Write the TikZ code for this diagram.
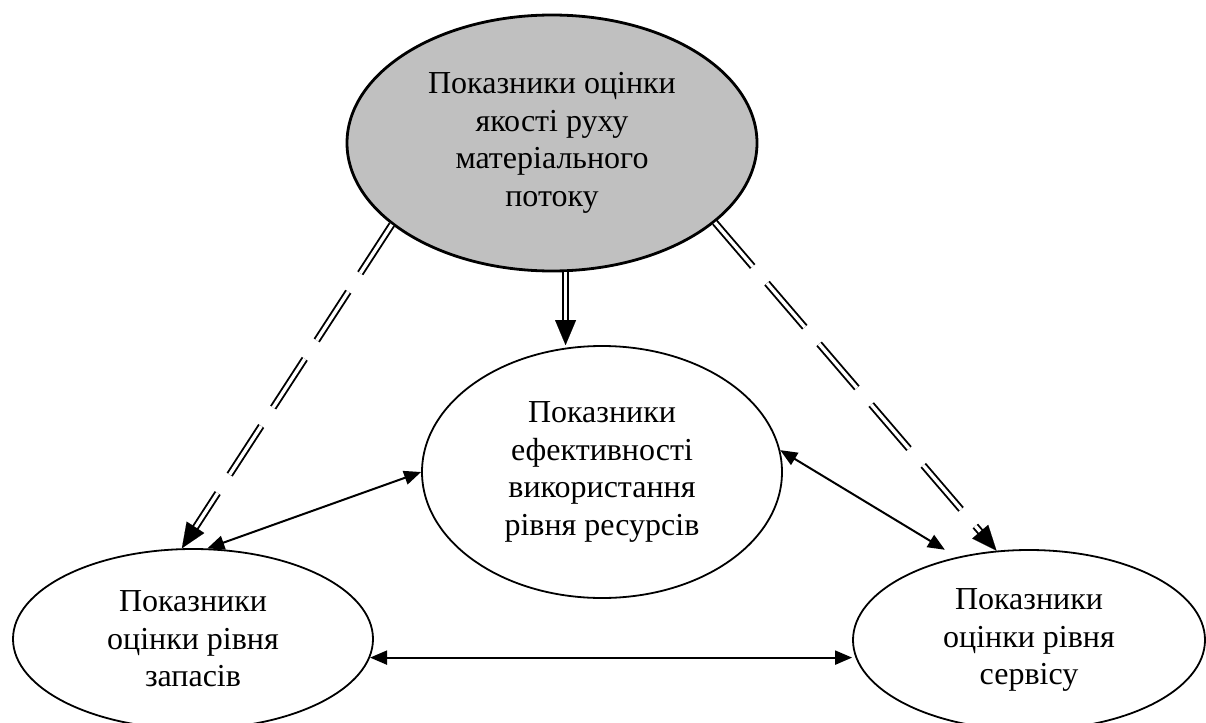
\documentclass[tikz,border=0pt]{standalone}
\usepackage{fontspec}
\setmainfont{Liberation Serif}
\usetikzlibrary{shapes.geometric,arrows.meta}
\definecolor{silverfill}{HTML}{C0C0C0}
\begin{document}
\begin{tikzpicture}[x=1pt,y=-1pt,
  oval/.style={ellipse, draw, line width=1.8pt, inner sep=0pt, align=center,
    font=\fontsize{32}{37.5}\selectfont},
  dline/.style={double, line width=1.9pt, double distance=3.4pt, shorten >=22pt},
  dashline/.style={dline, dash pattern=on 58pt off 22pt},
  tipline/.style={white, line width=0.1pt, shorten <=40pt,
    -{Triangle[length=25pt,width=21pt,color=black]}},
  biarrow/.style={line width=2pt,
    {Triangle[length=17pt,width=14pt]}-{Triangle[length=17pt,width=14pt]}}]
\useasboundingbox (0,0) rectangle (1206,722);

\node[oval, fill=silverfill, line width=2.8pt, minimum width=410pt, minimum height=256pt] (T) at (552,143)
  {Показники оцінки\\якості руху\\матеріального\\потоку};
\node[oval, minimum width=360pt, minimum height=252pt] (M) at (602,472)
  {Показники\\ефективності\\використання\\рівня ресурсів};
\node[oval, minimum width=360pt, minimum height=180pt] (L) at (193,639)
  {Показники\\оцінки рівня\\запасів};
\node[oval, minimum width=352pt, minimum height=180pt] (R) at (1029,640)
  {Показники\\оцінки рівня\\сервісу};

\draw[dashline] (T.207) -- (L.97);
\draw[tipline] (T.207) -- (L.97);
\draw[dashline] (T.334) -- (R.110);
\draw[tipline] (T.334) -- (R.110);
\draw[dline] (T.276) -- (T.276 |- M.north);
\draw[tipline, shorten <=20pt] (T.276) -- (T.276 |- M.north);

\draw[biarrow] (L.81) -- (M.180);
\draw[biarrow, shorten >=14pt] (M.7) -- (R.131);
\draw[biarrow] (L.354.5) -- (L.354.5 -| R.west);
\end{tikzpicture}
\end{document}
